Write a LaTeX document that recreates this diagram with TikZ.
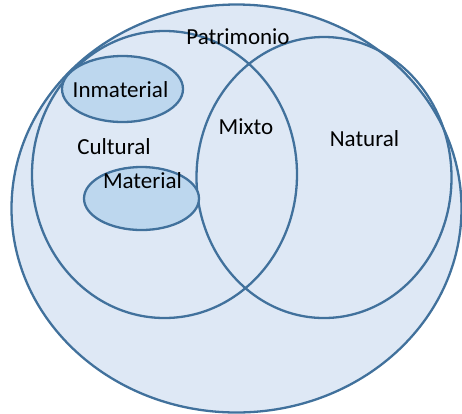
\documentclass[tikz,border=0pt]{standalone}
\usepackage{fontspec}
\setmainfont{Carlito}
\definecolor{edge}{HTML}{41719C}
\definecolor{lightfill}{HTML}{DEE8F5}
\definecolor{darkfill}{HTML}{BDD7EE}
\begin{document}
\begin{tikzpicture}[x=1pt,y=-1pt,
  setline/.style={draw=edge,line width=2.3pt},
  lbl/.style={font=\fontsize{23}{26}\selectfont,text=black,inner sep=0pt}]
\useasboundingbox (0,0) rectangle (462,413);
\draw[setline,fill=lightfill] (236.5,208.5) ellipse [x radius=225, y radius=204];
\draw[setline] (164.5,174.5) ellipse [x radius=132.5, y radius=143.5];
\draw[setline] (324,177.5) ellipse [x radius=127.5, y radius=140.5];
\draw[setline,fill=darkfill] (122.5,89) ellipse [x radius=60.5, y radius=33];
\draw[setline,fill=darkfill] (141.5,198.5) ellipse [x radius=57.5, y radius=31.5];
\node[lbl] (patrimonio) at (238,37) {Patrimonio};
\node[lbl] (inmaterial) at (120.5,90) {Inmaterial};
\node[lbl] (cultural) at (114,147) {Cultural};
\node[lbl] (material) at (142.5,181) {Material};
\node[lbl] (mixto) at (246,127) {Mixto};
\node[lbl] (natural) at (364.5,139) {Natural};
\end{tikzpicture}
\end{document}
